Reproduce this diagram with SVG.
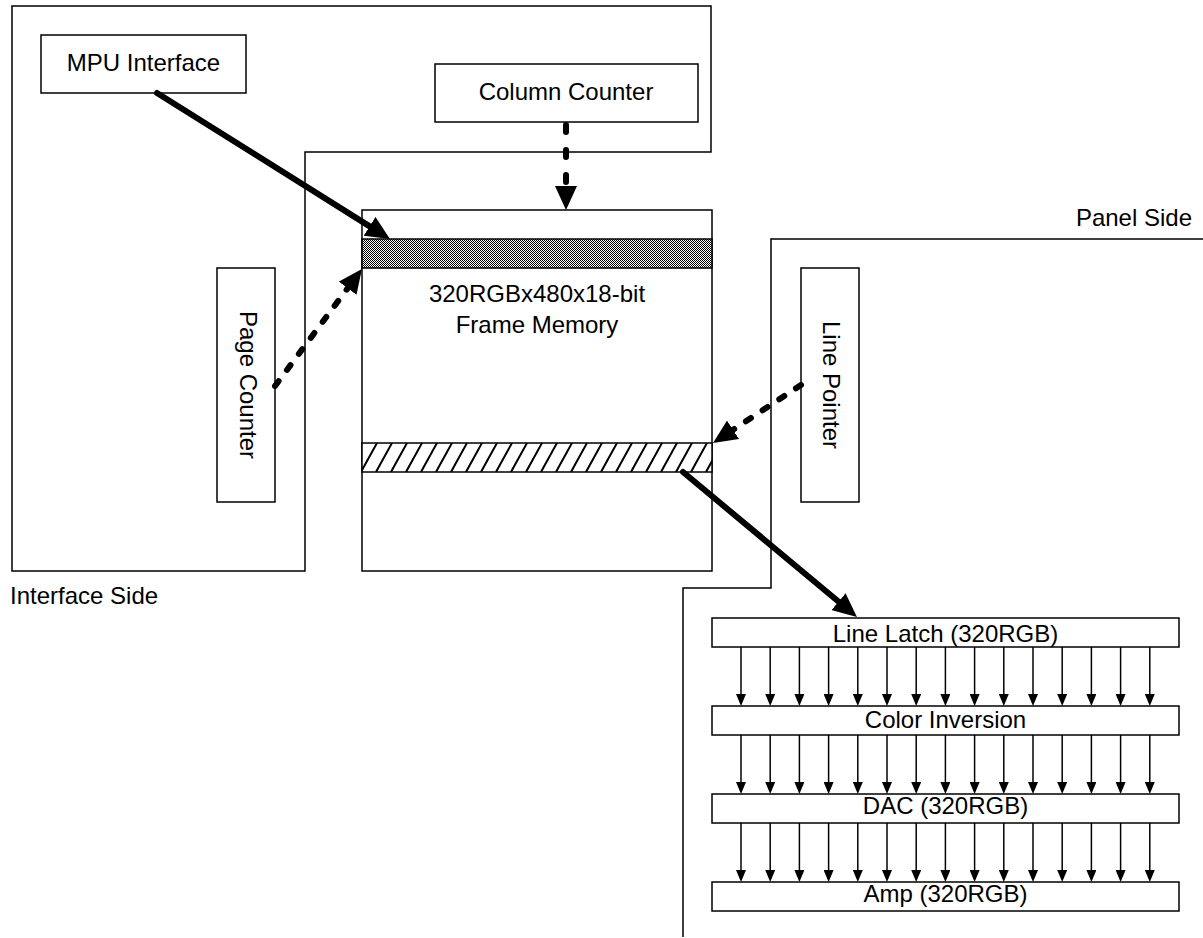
<svg xmlns="http://www.w3.org/2000/svg" width="1203" height="938" viewBox="0 0 1203 938">
<style>
.box{fill:#fff;stroke:#000;stroke-width:1.5}
.region{fill:none;stroke:#000;stroke-width:1.5}
.t{font-family:"Liberation Sans",Arial,sans-serif;font-size:24px;fill:#000}
.c{text-anchor:middle}
.thick{stroke:#000;stroke-width:6;fill:none;stroke-linecap:round}
.dash{stroke:#000;stroke-width:6;fill:none;stroke-linecap:round;stroke-dasharray:6 14}
.thin{stroke:#000;stroke-width:1.5;fill:none}
</style>
<defs>
<marker id="big" markerUnits="userSpaceOnUse" markerWidth="24" markerHeight="22" refX="10" refY="11" orient="auto" viewBox="0 0 24 22">
<path d="M0,0 L24,11 L0,22 z" fill="#000"/>
</marker>
<marker id="small" markerUnits="userSpaceOnUse" markerWidth="12" markerHeight="10" refX="4" refY="5" orient="auto" viewBox="0 0 12 10">
<path d="M0,0 L12,5 L0,10 z" fill="#000"/>
</marker>
<pattern id="check" patternUnits="userSpaceOnUse" x="0" y="0" width="2" height="2">
<rect width="2" height="2" fill="#fff"/>
<rect width="1" height="1" fill="#000"/>
<rect x="1" y="1" width="1" height="1" fill="#000"/>
</pattern>
<pattern id="hatch" patternUnits="userSpaceOnUse" x="362" y="443" width="15" height="29">
<rect width="15" height="29" fill="#fff"/>
<path d="M-1,29 L15,0 M14,29 L30,0 M-16,29 L0,0" stroke="#000" stroke-width="2"/>
</pattern>
</defs>

<g id="interface-side">
<polygon class="region" points="12,6 711,6 711,152 305,152 305,571 12,571"/>
<text class="t" x="10" y="604">Interface Side</text>
</g>

<g id="panel-side">
<polyline class="region" points="1203,239 771,239 771,588 683,588 683,937"/>
<text class="t" x="1192" y="226" text-anchor="end">Panel Side</text>
</g>

<g id="mpu-interface">
<rect class="box" x="41" y="35" width="205" height="58"/>
<text class="t c" x="143.5" y="71">MPU Interface</text>
</g>

<g id="column-counter">
<rect class="box" x="435" y="64" width="263" height="58"/>
<text class="t c" x="566" y="100">Column Counter</text>
</g>

<g id="page-counter">
<rect class="box" x="217" y="268" width="58" height="234"/>
<text class="t c" transform="translate(248,385) rotate(90)" x="0" y="8.5">Page Counter</text>
</g>

<g id="line-pointer">
<rect class="box" x="801" y="268" width="58" height="234"/>
<text class="t c" transform="translate(831,385) rotate(90)" x="0" y="8.5">Line Pointer</text>
</g>

<g id="frame-memory">
<rect class="box" x="362" y="210" width="350" height="361"/>
<rect x="362" y="239" width="350" height="29" fill="url(#check)" stroke="#000" stroke-width="1.5"/>
<rect x="362" y="443" width="350" height="29" fill="url(#hatch)" stroke="#000" stroke-width="1.5"/>
<text class="t c" x="537" y="302">320RGBx480x18-bit</text>
<text class="t c" x="537" y="333">Frame Memory</text>
</g>

<g id="line-latch">
<rect class="box" x="712" y="618" width="467" height="29"/>
<text class="t c" x="945.5" y="642">Line Latch (320RGB)</text>
</g>
<g id="color-inversion">
<rect class="box" x="712" y="706" width="467" height="29"/>
<text class="t c" x="945.5" y="728">Color Inversion</text>
</g>
<g id="dac">
<rect class="box" x="712" y="794" width="467" height="29"/>
<text class="t c" x="945.5" y="814">DAC (320RGB)</text>
</g>
<g id="amp">
<rect class="box" x="712" y="882" width="467" height="29"/>
<text class="t c" x="945.5" y="902">Amp (320RGB)</text>
</g>

<g id="connectors">
<line class="thick" x1="157" y1="93" x2="378.1" y2="231.6" marker-end="url(#big)"/>
<line class="dash" style="stroke-dasharray:7 18" x1="566" y1="125" x2="566" y2="196" marker-end="url(#big)"/>
<line class="dash" x1="275" y1="386" x2="353.6" y2="280.2" marker-end="url(#big)"/>
<line class="dash" x1="801" y1="385" x2="724.7" y2="435.3" marker-end="url(#big)"/>
<line class="thick" x1="683" y1="472" x2="846.2" y2="608" marker-end="url(#big)"/>
<g id="bus1">
<path class="thin" marker-end="url(#small)" d="M741,647 V698"/>
<path class="thin" marker-end="url(#small)" d="M770.2,647 V698"/>
<path class="thin" marker-end="url(#small)" d="M799.4,647 V698"/>
<path class="thin" marker-end="url(#small)" d="M828.6,647 V698"/>
<path class="thin" marker-end="url(#small)" d="M857.8,647 V698"/>
<path class="thin" marker-end="url(#small)" d="M887,647 V698"/>
<path class="thin" marker-end="url(#small)" d="M916.2,647 V698"/>
<path class="thin" marker-end="url(#small)" d="M945.4,647 V698"/>
<path class="thin" marker-end="url(#small)" d="M974.6,647 V698"/>
<path class="thin" marker-end="url(#small)" d="M1003.8,647 V698"/>
<path class="thin" marker-end="url(#small)" d="M1033,647 V698"/>
<path class="thin" marker-end="url(#small)" d="M1062.2,647 V698"/>
<path class="thin" marker-end="url(#small)" d="M1091.4,647 V698"/>
<path class="thin" marker-end="url(#small)" d="M1120.6,647 V698"/>
<path class="thin" marker-end="url(#small)" d="M1149.8,647 V698"/>
</g>
<g id="bus2">
<path class="thin" marker-end="url(#small)" d="M741,735 V786"/>
<path class="thin" marker-end="url(#small)" d="M770.2,735 V786"/>
<path class="thin" marker-end="url(#small)" d="M799.4,735 V786"/>
<path class="thin" marker-end="url(#small)" d="M828.6,735 V786"/>
<path class="thin" marker-end="url(#small)" d="M857.8,735 V786"/>
<path class="thin" marker-end="url(#small)" d="M887,735 V786"/>
<path class="thin" marker-end="url(#small)" d="M916.2,735 V786"/>
<path class="thin" marker-end="url(#small)" d="M945.4,735 V786"/>
<path class="thin" marker-end="url(#small)" d="M974.6,735 V786"/>
<path class="thin" marker-end="url(#small)" d="M1003.8,735 V786"/>
<path class="thin" marker-end="url(#small)" d="M1033,735 V786"/>
<path class="thin" marker-end="url(#small)" d="M1062.2,735 V786"/>
<path class="thin" marker-end="url(#small)" d="M1091.4,735 V786"/>
<path class="thin" marker-end="url(#small)" d="M1120.6,735 V786"/>
<path class="thin" marker-end="url(#small)" d="M1149.8,735 V786"/>
</g>
<g id="bus3">
<path class="thin" marker-end="url(#small)" d="M741,823 V874"/>
<path class="thin" marker-end="url(#small)" d="M770.2,823 V874"/>
<path class="thin" marker-end="url(#small)" d="M799.4,823 V874"/>
<path class="thin" marker-end="url(#small)" d="M828.6,823 V874"/>
<path class="thin" marker-end="url(#small)" d="M857.8,823 V874"/>
<path class="thin" marker-end="url(#small)" d="M887,823 V874"/>
<path class="thin" marker-end="url(#small)" d="M916.2,823 V874"/>
<path class="thin" marker-end="url(#small)" d="M945.4,823 V874"/>
<path class="thin" marker-end="url(#small)" d="M974.6,823 V874"/>
<path class="thin" marker-end="url(#small)" d="M1003.8,823 V874"/>
<path class="thin" marker-end="url(#small)" d="M1033,823 V874"/>
<path class="thin" marker-end="url(#small)" d="M1062.2,823 V874"/>
<path class="thin" marker-end="url(#small)" d="M1091.4,823 V874"/>
<path class="thin" marker-end="url(#small)" d="M1120.6,823 V874"/>
<path class="thin" marker-end="url(#small)" d="M1149.8,823 V874"/>
</g>
</g>
</svg>
